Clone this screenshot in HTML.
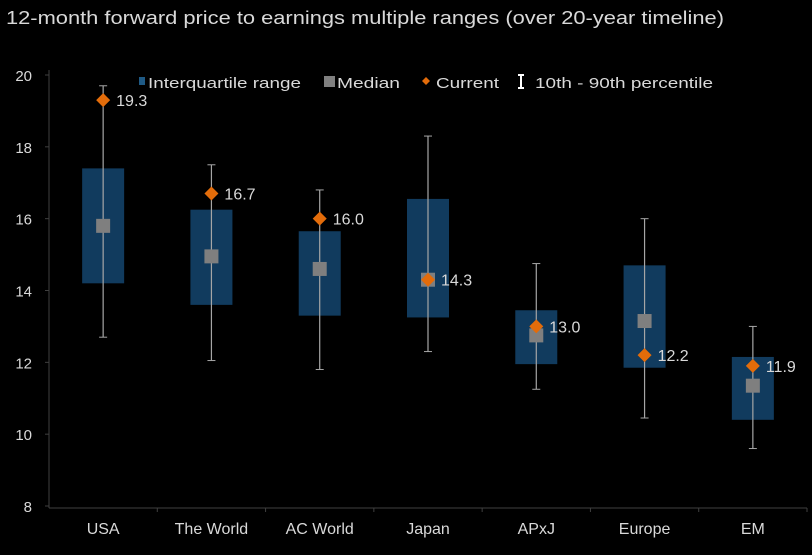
<!DOCTYPE html>
<html><head><meta charset="utf-8"><style>
body{margin:0;background:#000;width:812px;height:550px;overflow:hidden;font-family:"Liberation Sans",sans-serif}
svg text{font-family:"Liberation Sans",sans-serif}
</style></head><body>
<svg id="c" width="812" height="550">
<rect width="812" height="550" fill="#000"/>
<text x="6" y="24" fill="#d9d9d9" font-size="18" textLength="718" lengthAdjust="spacingAndGlyphs">12-month forward price to earnings multiple ranges (over 20-year timeline)</text>
<g>
<rect x="139" y="77" width="6" height="8" fill="#1f5a85"/>
<text x="148" y="88" fill="#d9d9d9" font-size="15" textLength="153" lengthAdjust="spacingAndGlyphs">Interquartile range</text>
<rect x="324" y="76" width="11" height="11" fill="#808080"/>
<text x="337" y="88" fill="#d9d9d9" font-size="15" textLength="63" lengthAdjust="spacingAndGlyphs">Median</text>
<path d="M426 77 l4 4 l-4 4 l-4 -4z" fill="#e36c0a"/>
<text x="436" y="88" fill="#d9d9d9" font-size="15" textLength="63" lengthAdjust="spacingAndGlyphs">Current</text>
<path d="M518 75 h6 M521 75 v13 M518 88 h6" stroke="#fff" stroke-width="2"/>
<text x="535" y="88" fill="#d9d9d9" font-size="15" textLength="178" lengthAdjust="spacingAndGlyphs">10th - 90th percentile</text>
</g>
<g id="plot"></g>
</svg>
<script>
const categories=["USA","The World","AC World","Japan","APxJ","Europe","EM"];
const p10=[12.7,12.05,11.8,12.3,11.25,10.45,9.6];
const p90=[19.7,17.5,16.8,18.3,14.75,16.0,13.0];
const q1=[14.2,13.6,13.3,13.25,11.95,11.85,10.4];
const q3=[17.4,16.25,15.65,16.55,13.45,14.7,12.15];
const median=[15.8,14.95,14.6,14.3,12.75,13.15,11.35];
const current=[19.3,16.7,16.0,14.3,13.0,12.2,11.9];
const yTicks=[8,10,12,14,16,18,20];
const NS="http://www.w3.org/2000/svg";
const g=document.getElementById('plot');
const x0=49,x1=807,yTop=75,yBot=506,ymin=8,ymax=20;
const step=(x1-x0)/categories.length;
const X=i=>x0+step*(i+0.5);
const Y=v=>yBot-(v-ymin)/(ymax-ymin)*(yBot-yTop);
function mk(t,a){const e=document.createElementNS(NS,t);for(const k in a)e.setAttribute(k,a[k]);g.appendChild(e);return e;}
let e=mk('line',{x1:x0,y1:yTop-5,x2:x0,y2:yBot+2,stroke:'#404040'});


e=mk('line',{x1:x0,y1:yBot+2,x2:x1,y2:yBot+2,stroke:'#404040'});


yTicks.forEach(v=>{
 const t=mk('text',{x:32,y:Y(v)+6,fill:'#d9d9d9','font-size':15,'text-anchor':'end'});t.textContent=v;
 
 
 mk('line',{x1:x0-4,y1:Y(v),x2:x0,y2:Y(v),stroke:'#404040'});
});
categories.forEach((c,i)=>{
 const cx=X(i),w=42;
 mk('line',{x1:x0+step*(i+1),y1:yBot+2,x2:x0+step*(i+1),y2:yBot+6,stroke:'#404040'});
 let r=mk('rect',{x:cx-w/2,y:Y(q3[i]),width:w,height:Y(q1[i])-Y(q3[i]),fill:'#113b5e'});
 
 
 let l=mk('line',{x1:cx,y1:Y(p90[i]),x2:cx,y2:Y(p10[i]),stroke:'#a6a6a6','stroke-width':1.2});
 
 
 mk('line',{x1:cx-4,y1:Y(p90[i]),x2:cx+4,y2:Y(p90[i]),stroke:'#a6a6a6'});
 mk('line',{x1:cx-4,y1:Y(p10[i]),x2:cx+4,y2:Y(p10[i]),stroke:'#a6a6a6'});
 let m=mk('rect',{x:cx-7,y:Y(median[i])-7,width:14,height:14,fill:'#7f7f7f'});
 
 
 const cy=Y(current[i]);
 let d=mk('path',{d:`M${cx} ${cy-7} L${cx+7} ${cy} L${cx} ${cy+7} L${cx-7} ${cy} Z`,fill:'#e36c0a'});
 
 
 let t=mk('text',{x:cx+13,y:cy+6,fill:'#d9d9d9','font-size':16});t.textContent=current[i].toFixed(1);
 
 
 let xl=mk('text',{x:cx,y:534,fill:'#d9d9d9','font-size':16,'text-anchor':'middle'});xl.textContent=c;
 
 
});
</script>
</body></html>
